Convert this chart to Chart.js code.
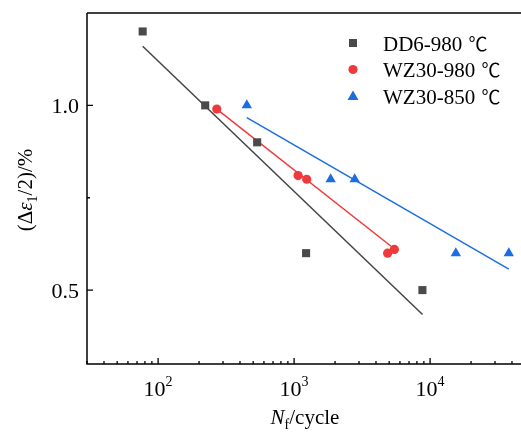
<!DOCTYPE html>
<html>
<head>
<meta charset="utf-8">
<script src="https://cdn.jsdelivr.net/npm/chart.js@4.4.1/dist/chart.umd.min.js"></script>
<style>
  html, body { margin: 0; padding: 0; background: #fff; }
  #wrap { width: 521px; height: 439px; }
</style>
</head>
<body>
<div id="wrap"><canvas id="c" width="521" height="439"></canvas></div>
<script>
// measured points
const dd6Cycles = [77, 222, 535, 1225, 8780];
const dd6Strain = [1.2, 1.0, 0.9, 0.6, 0.5];
const wz980Cycles = [270, 1070, 1238, 4870, 5460];
const wz980Strain = [0.99, 0.81, 0.80, 0.60, 0.61];
const wz850Cycles = [449, 1857, 2790, 15460, 37900];
const wz850Strain = [1.0, 0.8, 0.8, 0.6, 0.6];

// fitted lines (end points)
const dd6FitCycles = [77, 8800];
const dd6FitStrain = [1.16, 0.434];
const wz980FitCycles = [270, 5450];
const wz980FitStrain = [0.99, 0.612];
const wz850FitCycles = [449, 37900];
const wz850FitStrain = [0.967, 0.557];

const seriesNames = ['DD6-980', 'WZ30-980', 'WZ30-850'];
const unitLabel = '\u2103';
const xDecades = [100, 1000, 10000];
const xDecadeLabels = ['2', '3', '4'];
const yMajorTicks = [0.5, 1.0];
const yMinorTicks = [0.75];

const GRAY = '#4a4a4a', RED = '#ee3a3c', BLUE = '#1b6ee0';
const SERIF = '"Liberation Serif", "Times New Roman", serif';

function pts(xs, ys) {
    return xs.map((x, i) => ({ x: x, y: ys[i] }));
}

const axesPlugin = {
    id: 'axesPlugin',
    afterDraw(chart) {
        const ctx = chart.ctx;
        const area = chart.chartArea;
        const xs = chart.scales.x, ys = chart.scales.y;
        ctx.save();
        ctx.strokeStyle = '#000';
        ctx.lineWidth = 1.5;
        // frame: left, bottom, top
        ctx.beginPath();
        ctx.moveTo(area.left, area.top);
        ctx.lineTo(area.left, area.bottom);
        ctx.lineTo(area.right + 2, area.bottom);
        ctx.moveTo(area.left, area.top);
        ctx.lineTo(area.right + 2, area.top);
        ctx.stroke();

        // x ticks (inward)
        ctx.lineWidth = 1.3;
        ctx.beginPath();
        for (let d = 10; d <= 10000; d *= 10) {
            for (let k = 1; k <= 9; k++) {
                const v = d * k;
                if (v < xs.min || v > xs.max) continue;
                const px = xs.getPixelForValue(v);
                const len = k === 1 ? 6 : 3;
                ctx.moveTo(px, area.bottom);
                ctx.lineTo(px, area.bottom - len);
            }
        }
        // y ticks (inward)
        yMajorTicks.forEach(v => {
            const py = ys.getPixelForValue(v);
            ctx.moveTo(area.left, py);
            ctx.lineTo(area.left + 6, py);
        });
        yMinorTicks.forEach(v => {
            const py = ys.getPixelForValue(v);
            ctx.moveTo(area.left, py);
            ctx.lineTo(area.left + 3, py);
        });
        ctx.stroke();

        ctx.fillStyle = '#000';
        // y tick labels
        ctx.font = '22px ' + SERIF;
        ctx.textAlign = 'right';
        ctx.textBaseline = 'alphabetic';
        yMajorTicks.forEach(v => {
            const py = ys.getPixelForValue(v);
            ctx.fillText(v.toFixed(1), area.left - 8, py + 8);
        });

        // x tick labels 10^n
        xDecades.forEach((v, i) => {
            const px = xs.getPixelForValue(v);
            ctx.font = '22px ' + SERIF;
            const w1 = ctx.measureText('10').width;
            ctx.font = '14px ' + SERIF;
            const w2 = ctx.measureText(xDecadeLabels[i]).width;
            const x0 = px - (w1 + w2) / 2;
            ctx.textAlign = 'left';
            ctx.font = '22px ' + SERIF;
            ctx.fillText('10', x0, 396);
            ctx.font = '14px ' + SERIF;
            ctx.fillText(xDecadeLabels[i], x0 + w1, 386);
        });

        // x title: N_f/cycle
        {
            const parts = [
                { t: 'N', f: 'italic 21px ' + SERIF, dy: 0 },
                { t: 'f', f: '14px ' + SERIF, dy: 5 },
                { t: '/cycle', f: '21px ' + SERIF, dy: 0 }
            ];
            let total = 0;
            parts.forEach(p => { ctx.font = p.f; p.w = ctx.measureText(p.t).width; total += p.w; });
            let x = 305 - total / 2;
            ctx.textAlign = 'left';
            parts.forEach(p => { ctx.font = p.f; ctx.fillText(p.t, x, 424 + p.dy); x += p.w; });
        }

        // y title: (Δε1/2)/%
        {
            ctx.save();
            ctx.translate(32, 190);
            ctx.rotate(-Math.PI / 2);
            const parts = [
                { t: '(\u0394', f: '21px ' + SERIF, dy: 0 },
                { t: '\u03b5', f: 'italic 21px ' + SERIF, dy: 0 },
                { t: '1', f: '14px ' + SERIF, dy: 5 },
                { t: '/2)/%', f: '21px ' + SERIF, dy: 0 }
            ];
            let total = 0;
            parts.forEach(p => { ctx.font = p.f; p.w = ctx.measureText(p.t).width; total += p.w; });
            let x = -total / 2;
            ctx.textAlign = 'left';
            parts.forEach(p => { ctx.font = p.f; ctx.fillText(p.t, x, p.dy); x += p.w; });
            ctx.restore();
        }

        // legend
        const colors = [GRAY, RED, BLUE];
        const rowsY = [43, 69.5, 96];
        const mx = 353;
        seriesNames.forEach((name, i) => {
            const y = rowsY[i];
            ctx.fillStyle = colors[i];
            ctx.beginPath();
            if (i === 0) {
                ctx.rect(mx - 4, y - 4, 8, 8);
            } else if (i === 1) {
                ctx.arc(mx, y, 4.6, 0, Math.PI * 2);
            } else {
                ctx.moveTo(mx, y - 5.5);
                ctx.lineTo(mx + 5.5, y + 4);
                ctx.lineTo(mx - 5.5, y + 4);
                ctx.closePath();
            }
            ctx.fill();
            ctx.fillStyle = '#000';
            ctx.font = '21px ' + SERIF;
            ctx.textAlign = 'left';
            ctx.textBaseline = 'alphabetic';
            const w = ctx.measureText(name + ' ').width;
            ctx.fillText(name, 383, y + 7.5);
            ctx.font = '19px "Noto Sans CJK SC"';
            ctx.fillText(unitLabel, 383 + w + 1, y + 7.5);
        });
        ctx.restore();
    }
};

new Chart(document.getElementById('c'), {
    type: 'scatter',
    data: {
        datasets: [
            {
                label: seriesNames[0],
                data: pts(dd6Cycles, dd6Strain),
                pointStyle: 'rect', pointRadius: 5.7,
                backgroundColor: GRAY, borderColor: GRAY, borderWidth: 0,
                order: 0
            },
            {
                label: seriesNames[1],
                data: pts(wz980Cycles, wz980Strain),
                pointStyle: 'circle', pointRadius: 4.6,
                backgroundColor: RED, borderColor: RED, borderWidth: 0,
                order: 0
            },
            {
                label: seriesNames[2],
                data: pts(wz850Cycles, wz850Strain),
                pointStyle: 'triangle', pointRadius: 6,
                backgroundColor: BLUE, borderColor: BLUE, borderWidth: 0,
                order: 0
            },
            {
                label: 'fit1', data: pts(dd6FitCycles, dd6FitStrain),
                showLine: true, pointRadius: 0, borderColor: '#444', borderWidth: 1.5, order: 1
            },
            {
                label: 'fit2', data: pts(wz980FitCycles, wz980FitStrain),
                showLine: true, pointRadius: 0, borderColor: RED, borderWidth: 1.5, order: 1
            },
            {
                label: 'fit3', data: pts(wz850FitCycles, wz850FitStrain),
                showLine: true, pointRadius: 0, borderColor: BLUE, borderWidth: 1.5, order: 1
            }
        ]
    },
    options: {
        responsive: false,
        animation: false,
        layout: { autoPadding: false, padding: { left: 87, top: 13, right: 0, bottom: 75 } },
        plugins: {
            legend: { display: false },
            tooltip: { enabled: false }
        },
        scales: {
            x: { type: 'logarithmic', min: 30, max: 46600, display: false },
            y: { type: 'linear', min: 0.3, max: 1.25, display: false }
        }
    },
    plugins: [axesPlugin]
});
</script>
</body>
</html>
